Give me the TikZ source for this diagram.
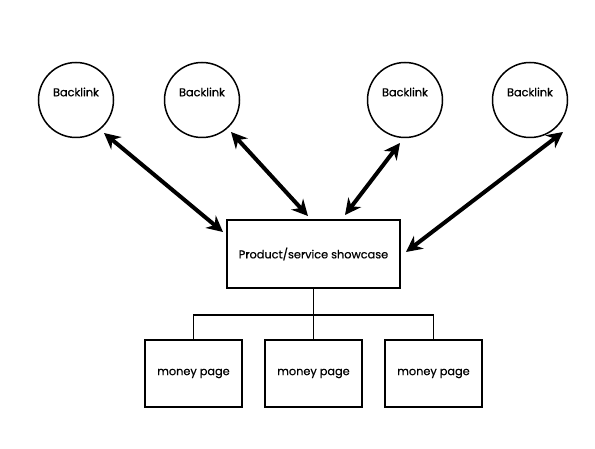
\documentclass[tikz,border=0pt]{standalone}
\usepackage{fontspec}
\setmainfont{Poppins}[FakeBold=0.6]
\usetikzlibrary{arrows.meta}
\begin{document}
\begin{tikzpicture}[x=1pt,y=-1pt,
  lbl/.style={font=\fontsize{11.3}{13}\selectfont},
  back/.style={circle,draw,line width=1.5pt,minimum size=75pt,inner sep=0pt},
  boxa/.style={rectangle,draw,line width=1.9pt,lbl},
  arr/.style={line width=4pt,{Stealth[length=16pt,width=16pt]}-{Stealth[length=16pt,width=16pt]}},
  tree/.style={line width=1.5pt}]
\useasboundingbox (0,0) rectangle (595,449);
\node[back] (b1) at (76,100) {};
\node[back] (b2) at (202,100) {};
\node[back] (b3) at (405,100) {};
\node[back] (b4) at (530,100) {};
\node[lbl] (l1) at (76,92) {Backlink};
\node[lbl] (l2) at (202,92) {Backlink};
\node[lbl] (l3) at (405,92) {Backlink};
\node[lbl] (l4) at (530,92) {Backlink};
\node[boxa,minimum width=173pt,minimum height=68pt] (sc) at (313.5,254) {Product/service showcase};
\node[boxa,minimum width=97pt,minimum height=67pt] (m1) at (193.5,373.5) {money page};
\node[boxa,minimum width=97pt,minimum height=67pt] (m2) at (313.5,373.5) {money page};
\node[boxa,minimum width=97pt,minimum height=67pt] (m3) at (433.5,373.5) {money page};
% arrow tips
\coordinate (t1a) at (104,133); \coordinate (t1b) at (223,232);
\coordinate (t2a) at (231,132); \coordinate (t2b) at (308,216);
\coordinate (t3a) at (400,143); \coordinate (t3b) at (345,215);
\coordinate (t4a) at (563,132); \coordinate (t4b) at (406,252);
\draw[arr] (t1a) -- (t1b);
\draw[arr] (t2a) -- (t2b);
\draw[arr] (t3a) -- (t3b);
\draw[arr] (t4a) -- (t4b);
% tree
\coordinate (j) at (313.5,315);
\draw[tree] (sc.south) -- (j);
\draw[tree] (m1.north) |- (j) -| (m3.north);
\draw[tree] (j) -- (m2.north);
\end{tikzpicture}
\end{document}
